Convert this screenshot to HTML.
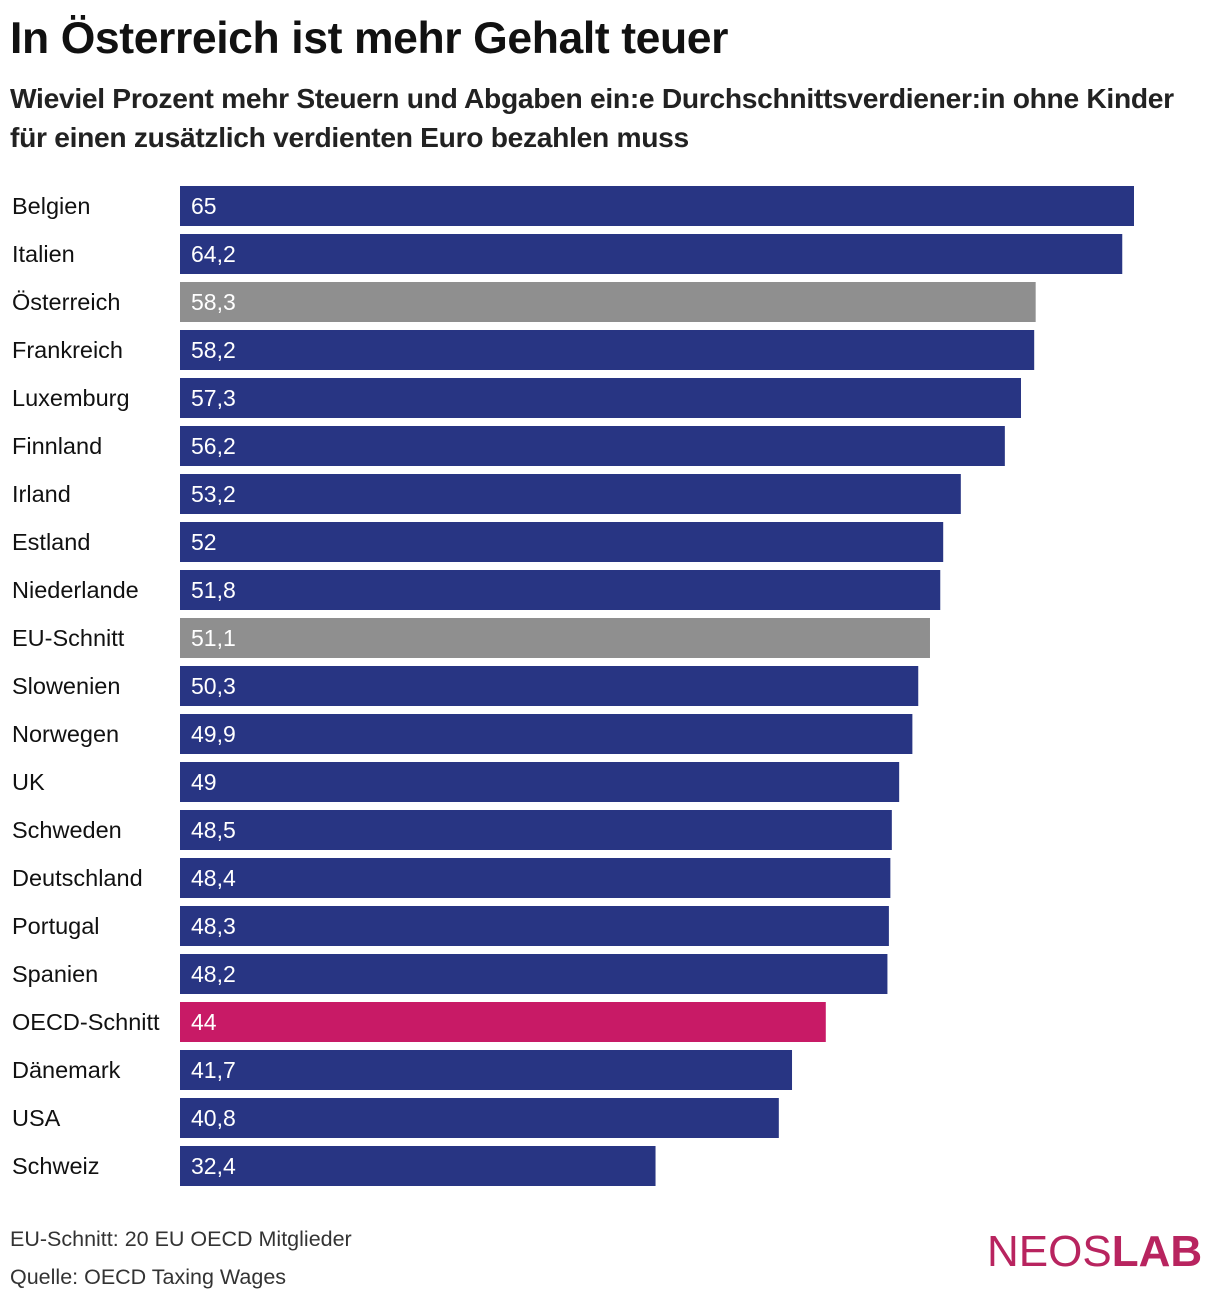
<!DOCTYPE html>
<html><head><meta charset="utf-8"><style>
body{margin:0;width:1220px;height:1302px;background:#fff;font-family:"Liberation Sans",sans-serif;position:relative;overflow:hidden}
#title{position:absolute;left:10px;top:14px;font-size:44.5px;font-weight:bold;color:#111;letter-spacing:-0.4px;margin:0;white-space:nowrap}
#sub{position:absolute;left:10px;top:79px;font-size:28.2px;font-weight:bold;color:#222;line-height:39px;letter-spacing:-0.3px;white-space:nowrap}
.note{position:absolute;left:10px;font-size:21.5px;color:#333}
#logo{position:absolute;left:987px;top:1227px;font-size:44px;color:#b8245f;letter-spacing:0}
</style></head><body>
<h1 id="title">In Österreich ist mehr Gehalt teuer</h1>
<div id="sub">Wieviel Prozent mehr Steuern und Abgaben ein:e Durchschnittsverdiener:in ohne Kinder<br>für einen zusätzlich verdienten Euro bezahlen muss</div>
<svg id="chart" width="1220" height="1200" style="position:absolute;left:0;top:0"></svg>
<div class="note" style="top:1227px">EU-Schnitt: 20 EU OECD Mitglieder</div>
<div class="note" style="top:1265px">Quelle: OECD Taxing Wages</div>
<div id="logo">NEOS<b>LAB</b></div>
<script>
const categories=["Belgien","Italien","Österreich","Frankreich","Luxemburg","Finnland","Irland","Estland","Niederlande","EU-Schnitt","Slowenien","Norwegen","UK","Schweden","Deutschland","Portugal","Spanien","OECD-Schnitt","Dänemark","USA","Schweiz"];
const values=[65,64.2,58.3,58.2,57.3,56.2,53.2,52,51.8,51.1,50.3,49.9,49,48.5,48.4,48.3,48.2,44,41.7,40.8,32.4];
const labels=["65","64,2","58,3","58,2","57,3","56,2","53,2","52","51,8","51,1","50,3","49,9","49","48,5","48,4","48,3","48,2","44","41,7","40,8","32,4"];
const ns="http://www.w3.org/2000/svg",svg=document.getElementById('chart');
const x=v=>180+v*(954/65), y=i=>186+i*48;
function colorFor(c){return c==="Österreich"||c==="EU-Schnitt"?"#8f8f8f":c==="OECD-Schnitt"?"#c81a66":"#283583";}
categories.forEach((c,i)=>{
 const r=document.createElementNS(ns,'rect');
 
 
 r.setAttribute('x',180);r.setAttribute('y',y(i));r.setAttribute('width',x(values[i])-180);r.setAttribute('height',40);r.setAttribute('fill',colorFor(c));
 svg.appendChild(r);
 const t=document.createElementNS(ns,'text');
 
 
 t.setAttribute('x',12);t.setAttribute('y',y(i)+28);t.setAttribute('font-size','23.5');t.setAttribute('fill','#111');t.textContent=c;
 svg.appendChild(t);
 const v=document.createElementNS(ns,'text');
 
 
 v.setAttribute('x',191);v.setAttribute('y',y(i)+28);v.setAttribute('font-size','23');v.setAttribute('fill','#fff');v.textContent=labels[i];
 svg.appendChild(v);
});
</script>
</body></html>
